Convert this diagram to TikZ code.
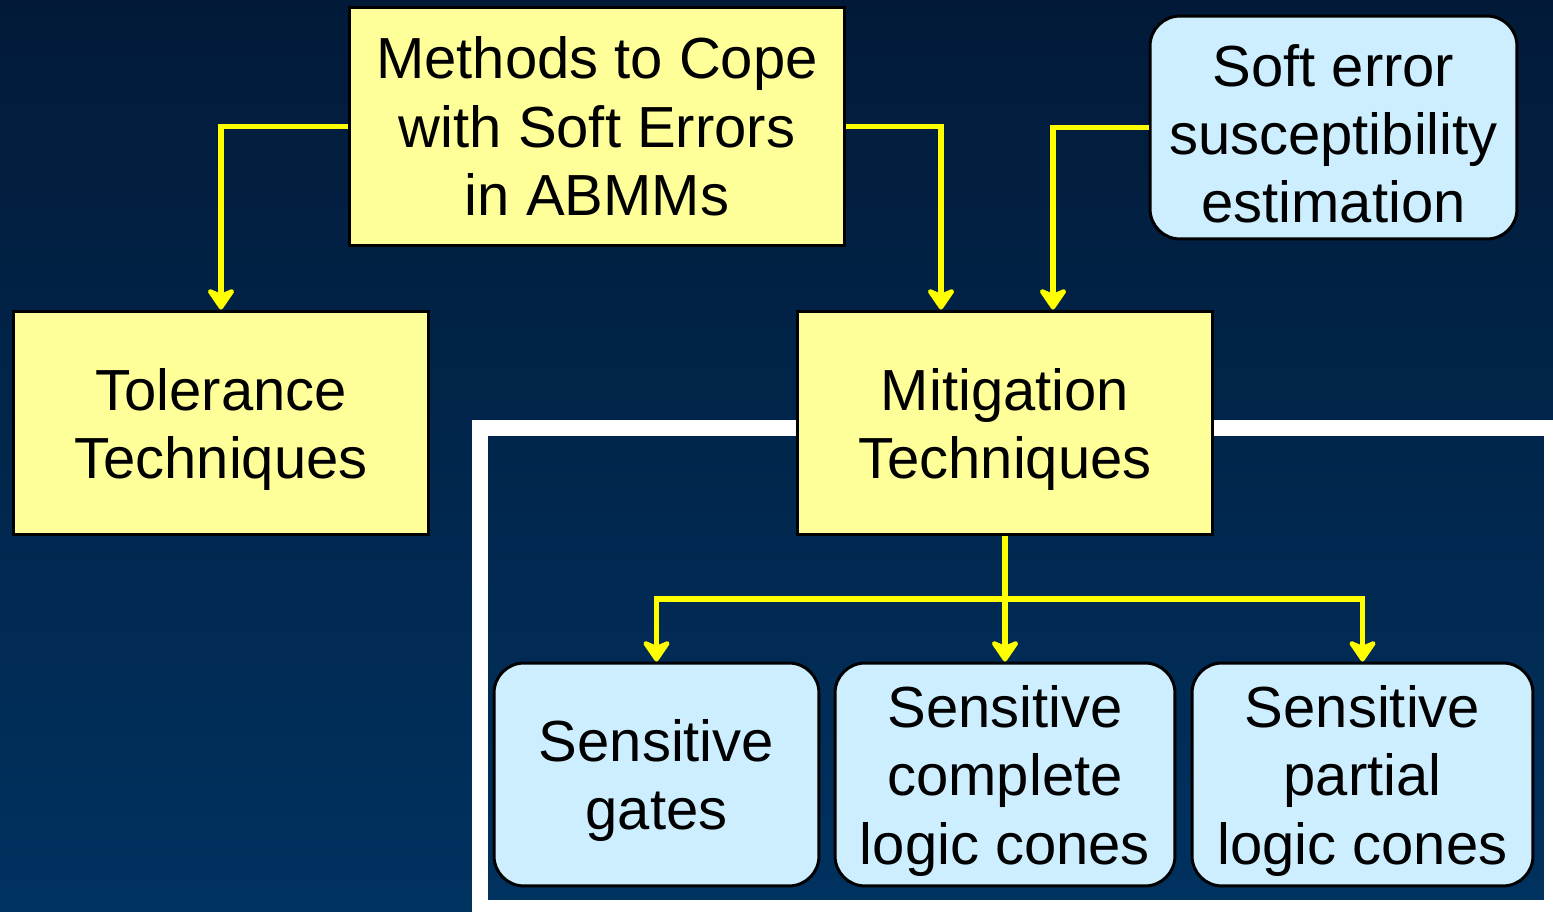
\documentclass[tikz,border=0pt]{standalone}
\usepackage{fontspec}
\setmainfont{Liberation Sans}
\usetikzlibrary{arrows.meta,calc}
\definecolor{bgtop}{RGB}{2,26,56}
\definecolor{bgbot}{RGB}{0,50,96}
\definecolor{boxyellow}{RGB}{255,255,153}
\definecolor{boxblue}{RGB}{204,238,255}
\definecolor{linkyellow}{RGB}{255,255,0}
\newcommand{\lowstrut}{\rule{0pt}{31pt}}

\begin{document}
\begin{tikzpicture}[x=0.02cm,y=-0.02cm]
\tikzstyle{yelbox}=[rectangle,draw=black,line width=1.7pt,fill=boxyellow,align=center,font=\fontsize{33}{38.9}\selectfont,minimum width=8.32cm,minimum height=4.48cm]
\tikzstyle{bluebox}=[rectangle,rounded corners=0.6cm,draw=black,line width=1.7pt,fill=boxblue,align=center,font=\fontsize{33}{38.9}\selectfont,minimum height=4.46cm]
\tikzstyle{link}=[draw=linkyellow,line width=3.4pt,-{Stealth[length=14pt,width=19pt,inset=4pt,round]}]
\useasboundingbox (0,0) rectangle (1553,912);
\shade[top color=bgtop,bottom color=bgbot] (0,0) rectangle (1553,912);
\draw[white,line width=9pt] (480,428) rectangle (1552,908);
\node [yelbox,minimum width=9.92cm,minimum height=4.78cm] (meth) at (597,126.5) {Methods to Cope\\with Soft Errors\\in ABMMs};
\node [yelbox] (tol) at (221,423) {\lowstrut Tolerance\\Techniques};
\node [yelbox] (mit) at (1005,423) {\lowstrut Mitigation\\Techniques};
\node [bluebox,minimum width=7.34cm] (soft) at (1333.5,127.5) {\lowstrut Soft error\\susceptibility\\estimation};
\node [bluebox,minimum width=6.5cm] (gates) at (656.5,774.5) {\lowstrut Sensitive\\gates};
\node [bluebox,minimum width=6.8cm] (compl) at (1005,774.5) {\lowstrut Sensitive\\complete\\logic cones};
\node [bluebox,minimum width=6.82cm] (part) at (1362.5,774.5) {\lowstrut Sensitive\\partial\\logic cones};
\coordinate (split) at ($(mit.south)+(0,63)$);
\draw [link] (meth.west) -| (tol.north);
\draw [link] (meth.east) -| ($(mit.north)+(-64,0)$);
\draw [link] (soft.west) -| ($(mit.north)+(48,0)$);
\draw [link] (mit.south) -- (compl.north);
\draw [link] (split) -| (gates.north);
\draw [link] (split) -| (part.north);
\end{tikzpicture}
\end{document}
